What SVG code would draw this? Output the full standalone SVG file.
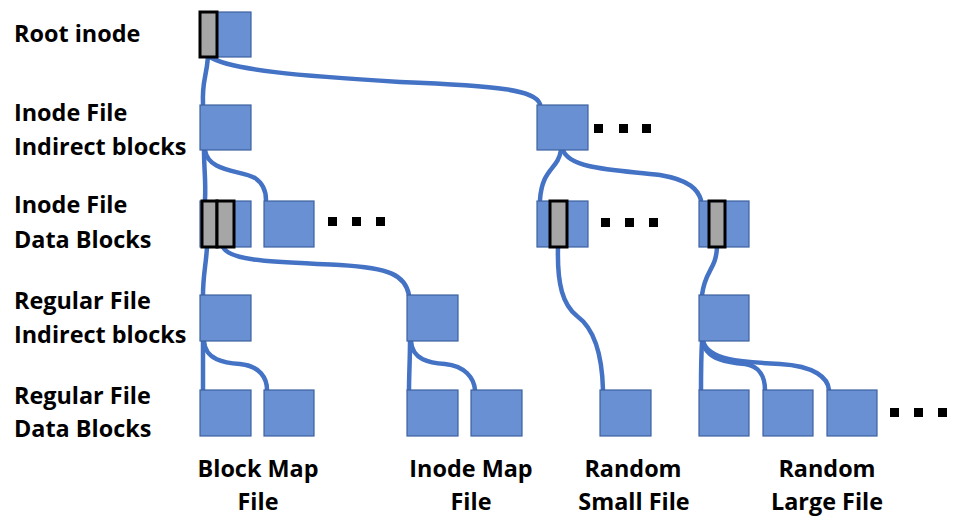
<svg xmlns="http://www.w3.org/2000/svg" width="963" height="517" viewBox="0 0 963 517">
<style>
.bx{fill:#6890D2;stroke:#3E62A0;stroke-width:1.2}
.gr{fill:#A6A6A6;stroke:#000;stroke-width:3}
.dot{fill:#000}
.ln{fill:none;stroke:#4472C4;stroke-width:4.5;stroke-linecap:round}
text{font-family:"Open Sans","Liberation Sans",sans-serif;font-weight:700;font-size:23.4px;fill:#000}
.c{text-anchor:middle}
</style>
<rect width="963" height="517" fill="#fff"/>
<g id="connectors">
<path class="ln" d="M208,57 C206,80 202,80 203,104"/>
<path class="ln" d="M210,57 C230,70 300,76 400,82 C500,86 535,90 540,104"/>
<path class="ln" d="M204,150 C204,170 206,180 205,200"/>
<path class="ln" d="M205,150 C208,172 240,170 255,178 C264,184 266,192 266,200"/>
<path class="ln" d="M207,247 C206,265 203,275 203,295"/>
<path class="ln" d="M223,247 C230,262 280,262 340,265 C390,268 405,275 409,295"/>
<path class="ln" d="M203,341 L203,390"/>
<path class="ln" d="M204,341 C205,360 225,363 240,364 C260,366 267,378 267,390"/>
<path class="ln" d="M410,341 C410,360 409,375 409,390"/>
<path class="ln" d="M411,341 C412,360 430,363 445,364 C465,366 474,378 475,390"/>
<path class="ln" d="M561,150 C558,170 542,168 540,200"/>
<path class="ln" d="M563,150 C570,170 620,170 660,175 C690,180 698,190 701,200"/>
<path class="ln" d="M558,247 C557,285 563,305 577,316 C592,327 602,350 603,390"/>
<path class="ln" d="M717,247 C716,270 705,270 702,295"/>
<path class="ln" d="M702,341 C701,360 701,375 701,390"/>
<path class="ln" d="M703,341 C705,360 730,363 745,364 C760,366 765,378 765,390"/>
<path class="ln" d="M703,341 C708,360 740,362 780,364 C815,366 828,378 829,390"/>
</g>
<g id="labels">
<text x="14" y="42">Root inode</text>
<text x="14" y="121">Inode File</text>
<text x="14" y="155">Indirect blocks</text>
<text x="14" y="213">Inode File</text>
<text x="14" y="248">Data Blocks</text>
<text x="14" y="309">Regular File</text>
<text x="14" y="343">Indirect blocks</text>
<text x="14" y="404">Regular File</text>
<text x="14" y="437">Data Blocks</text>
<text class="c" x="258" y="477">Block Map</text>
<text class="c" x="258" y="510">File</text>
<text class="c" x="471" y="477">Inode Map</text>
<text class="c" x="471" y="510">File</text>
<text class="c" x="633" y="477">Random</text>
<text class="c" x="634" y="510">Small File</text>
<text class="c" x="827" y="477">Random</text>
<text class="c" x="827" y="510">Large File</text>
</g>
<g id="root"><rect class="bx" x="200" y="12" width="51" height="45"/><rect class="gr" x="200" y="12" width="17" height="45"/></g>
<g id="inode-indirect-1"><rect class="bx" x="200" y="105" width="51" height="45"/></g>
<g id="inode-indirect-2"><rect class="bx" x="537" y="105" width="51" height="45"/></g>
<g id="dots-row2"><rect class="dot" x="594" y="124" width="9" height="9"/><rect class="dot" x="619" y="124" width="9" height="9"/><rect class="dot" x="642" y="124" width="9" height="9"/></g>
<g id="inode-data-1"><rect class="bx" x="200" y="201" width="51" height="46"/><rect class="gr" x="202" y="201" width="15" height="46"/><rect class="gr" x="217" y="201" width="17" height="46"/></g>
<g id="inode-data-2"><rect class="bx" x="264" y="201" width="50" height="46"/></g>
<g id="dots-row3a"><rect class="dot" x="328" y="217" width="9" height="9"/><rect class="dot" x="352" y="217" width="9" height="9"/><rect class="dot" x="376" y="217" width="9" height="9"/></g>
<g id="inode-data-3"><rect class="bx" x="537" y="201" width="51" height="46"/><rect class="gr" x="550" y="201" width="17" height="46"/></g>
<g id="dots-row3b"><rect class="dot" x="601" y="218" width="9" height="9"/><rect class="dot" x="625" y="218" width="9" height="9"/><rect class="dot" x="649" y="218" width="9" height="9"/></g>
<g id="inode-data-4"><rect class="bx" x="699" y="201" width="50" height="46"/><rect class="gr" x="709" y="201" width="16" height="46"/></g>
<g id="reg-indirect-1"><rect class="bx" x="200" y="295" width="51" height="46"/></g>
<g id="reg-indirect-2"><rect class="bx" x="407" y="295" width="51" height="46"/></g>
<g id="reg-indirect-3"><rect class="bx" x="699" y="295" width="50" height="46"/></g>
<g id="reg-data-1"><rect class="bx" x="200" y="390" width="51" height="46"/></g>
<g id="reg-data-2"><rect class="bx" x="264" y="390" width="50" height="46"/></g>
<g id="reg-data-3"><rect class="bx" x="407" y="390" width="51" height="46"/></g>
<g id="reg-data-4"><rect class="bx" x="471" y="390" width="51" height="46"/></g>
<g id="reg-data-5"><rect class="bx" x="600" y="390" width="51" height="46"/></g>
<g id="reg-data-6"><rect class="bx" x="699" y="390" width="50" height="46"/></g>
<g id="reg-data-7"><rect class="bx" x="763" y="390" width="50" height="46"/></g>
<g id="reg-data-8"><rect class="bx" x="827" y="390" width="50" height="46"/></g>
<g id="dots-row5"><rect class="dot" x="890" y="408" width="9" height="9"/><rect class="dot" x="914" y="408" width="9" height="9"/><rect class="dot" x="938" y="408" width="9" height="9"/></g>
</svg>
